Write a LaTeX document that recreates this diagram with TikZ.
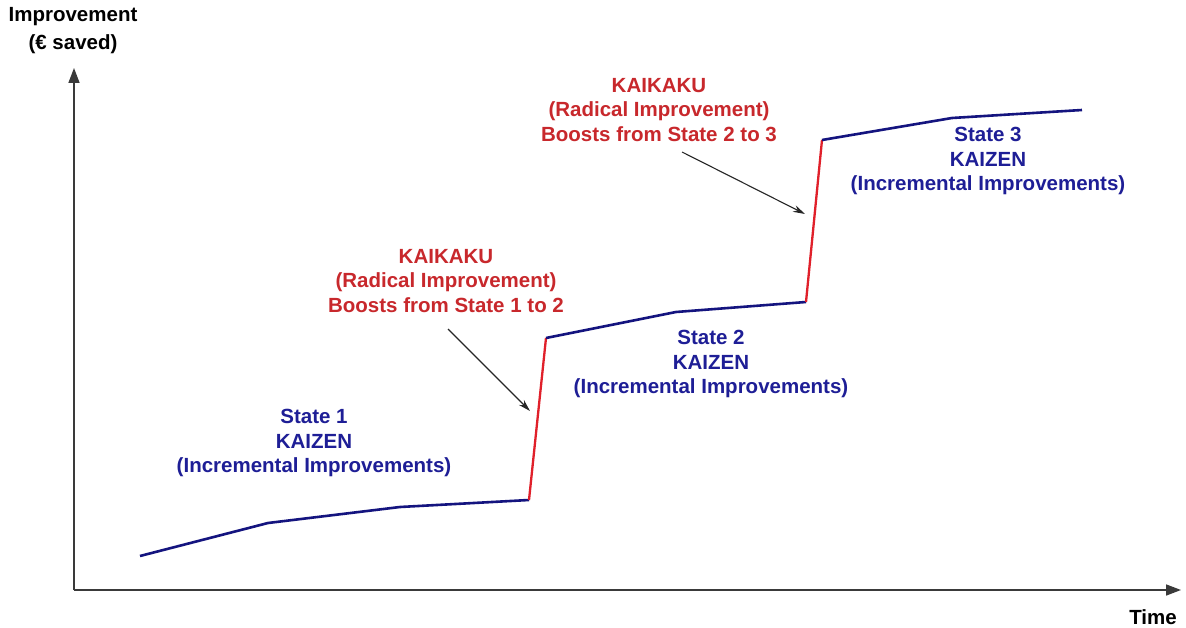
\documentclass[tikz,border=0pt]{standalone}
\usepackage{fontspec}
\setmainfont{Liberation Sans}
\usetikzlibrary{arrows.meta}
\definecolor{kzblue}{HTML}{1E1E96}
\definecolor{kzline}{HTML}{14147F}
\definecolor{kkred}{HTML}{C8282C}
\definecolor{kkline}{HTML}{E0202A}
\definecolor{axisgray}{HTML}{3A3A3A}
\tikzset{
  lbl/.style={align=center, inner sep=0pt, font=\fontsize{20.5}{24.5}\selectfont\bfseries},
  kaizen/.style={lbl, text=kzblue},
  kaikaku/.style={lbl, text=kkred},
  axislbl/.style={lbl, text=black, font=\fontsize{20.5}{28}\selectfont\bfseries},
  axisline/.style={draw=axisgray, line width=1.6pt, -{Triangle[length=15pt,width=11pt]}},
  slowline/.style={draw=kzline, line width=2.6pt, line join=round},
  jumpline/.style={draw=kkline, line width=2.3pt, line join=round},
  pointer/.style={draw=black!85, line width=1.1pt, -{Stealth[length=12pt,width=7pt]}}
}
\begin{document}
\begin{tikzpicture}[x=1pt,y=-1pt]
\useasboundingbox (0,0) rectangle (1186,628);
\fill[white] (0,0) rectangle (1186,628);
% axes
\coordinate (O) at (74,590);
\coordinate (ytip) at (74,68);
\coordinate (xtip) at (1181,590);
\draw[axisline] (O) -- (ytip);
\draw[axisline] (O) -- (xtip);
\node[axislbl] (ylab) at (73,31) {Improvement\\(€ saved)};
\node[axislbl] (xlab) at (1153,617) {Time};
% curve points
\coordinate (p1) at (140,556);
\coordinate (p2) at (268,523);
\coordinate (p3) at (400,507);
\coordinate (p4) at (529,500);
\coordinate (p5) at (546,338);
\coordinate (p6) at (676,312);
\coordinate (p7) at (806,302);
\coordinate (p8) at (822,140);
\coordinate (p9) at (952,118);
\coordinate (p10) at (1082,110);
\draw[slowline] (p1) -- (p2) -- (p3) -- (p4);
\draw[jumpline] (p4) -- (p5);
\draw[slowline] (p5) -- (p6) -- (p7);
\draw[jumpline] (p7) -- (p8);
\draw[slowline] (p8) -- (p9) -- (p10);
% labels
\node[kaizen] (s1) at (314,443) {State 1\\KAIZEN\\(Incremental Improvements)};
\node[kaizen] (s2) at (711,364) {State 2\\KAIZEN\\(Incremental Improvements)};
\node[kaizen] (s3) at (988,161) {State 3\\KAIZEN\\(Incremental Improvements)};
\node[kaikaku] (k1) at (446,281) {KAIKAKU\\(Radical Improvement)\\Boosts from State 1 to 2};
\node[kaikaku] (k2) at (659,110) {KAIKAKU\\(Radical Improvement)\\Boosts from State 2 to 3};
% pointers
\coordinate (a1s) at (448,329);
\coordinate (a1e) at (530,411);
\coordinate (a2s) at (682,152);
\coordinate (a2e) at (805,214);
\draw[pointer] (a1s) -- (a1e);
\draw[pointer] (a2s) -- (a2e);
\end{tikzpicture}
\end{document}
